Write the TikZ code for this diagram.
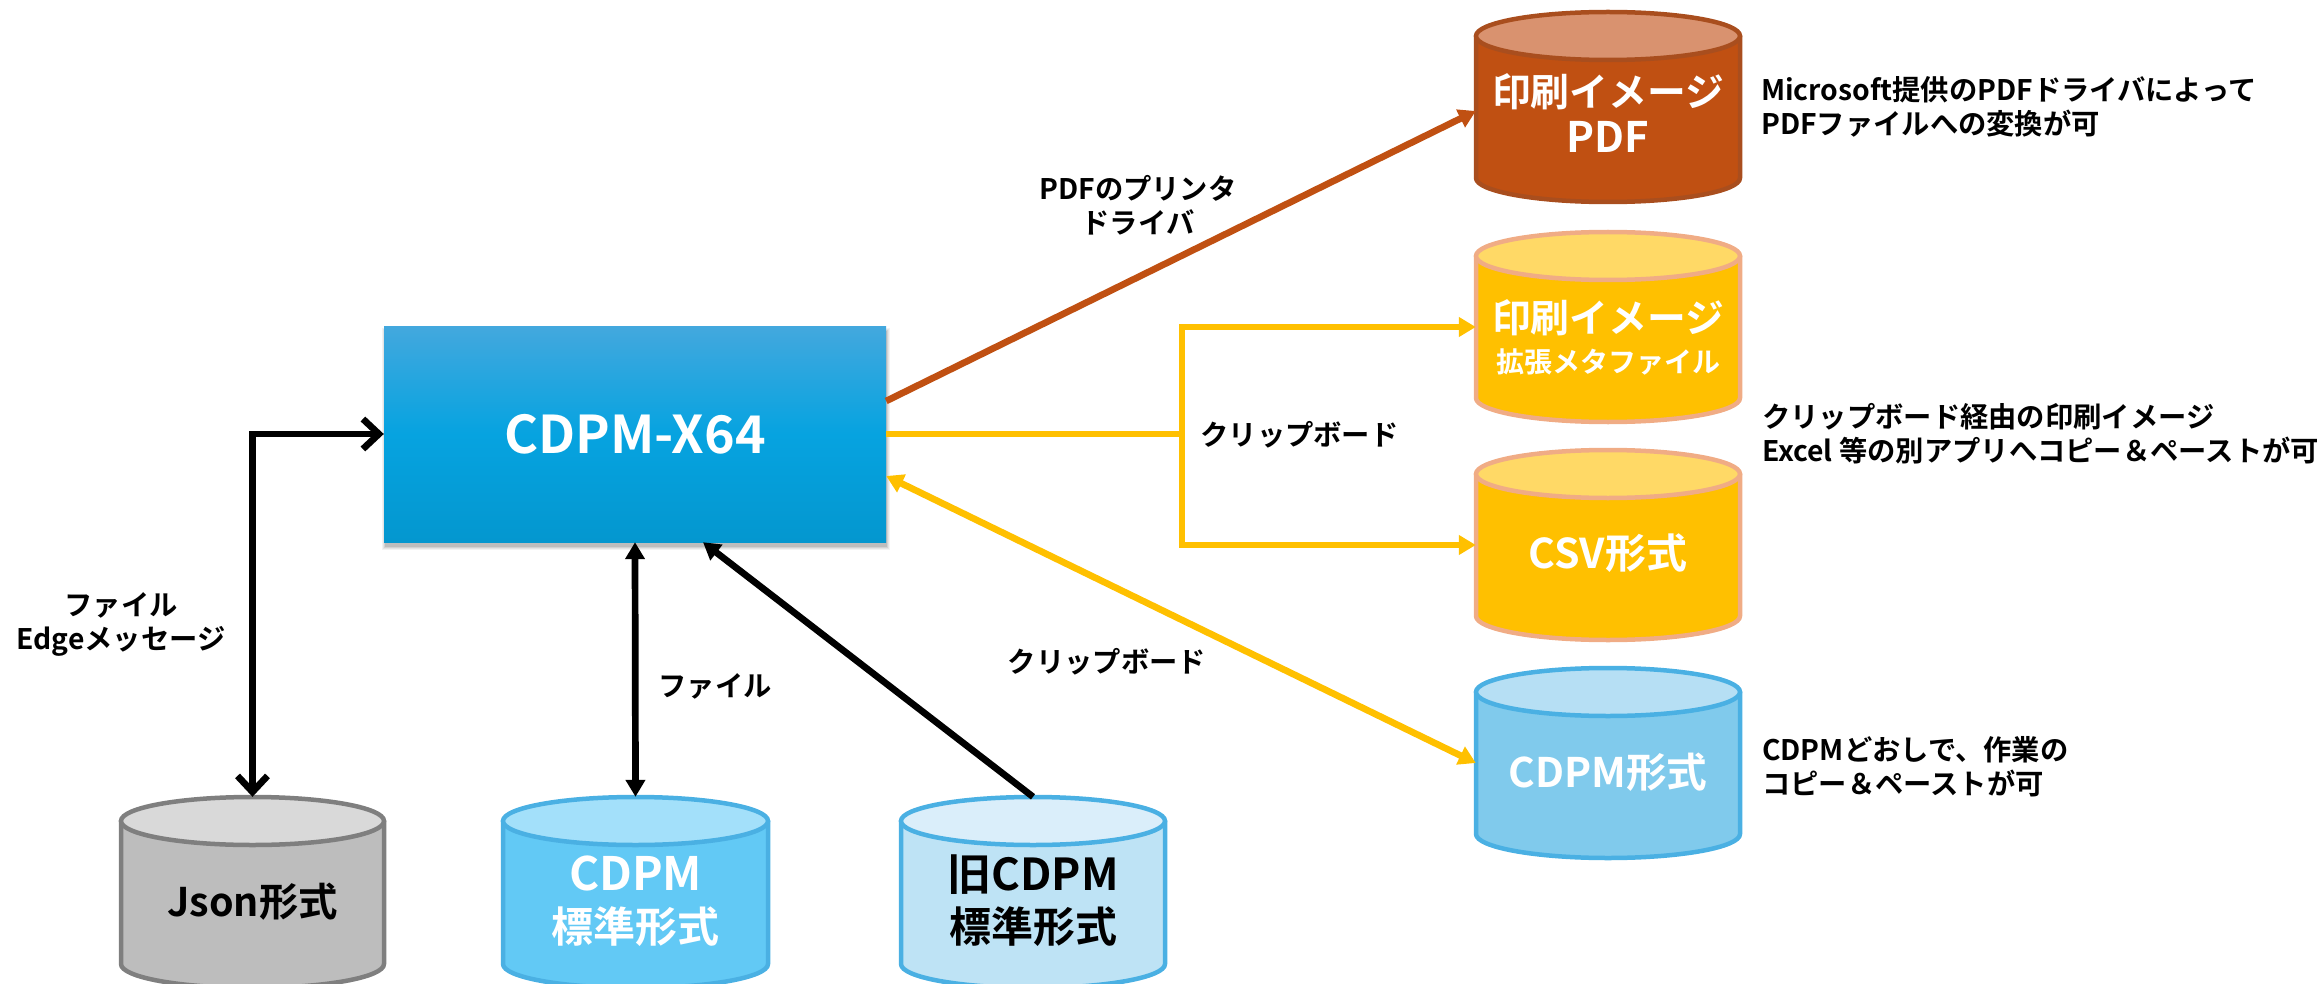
\documentclass[tikz,border=0pt]{standalone}
\usepackage{fontspec}
\setmainfont{Noto Sans CJK JP}[BoldFont={Noto Sans CJK JP Bold}]
\usetikzlibrary{arrows.meta,calc}
\definecolor{pdfF}{HTML}{C05012}\definecolor{pdfT}{HTML}{D9926F}\definecolor{pdfL}{HTML}{A94E1E}
\definecolor{yelF}{HTML}{FFC000}\definecolor{yelT}{HTML}{FFD966}\definecolor{yelL}{HTML}{F0AC85}
\definecolor{cfmF}{HTML}{80CAEC}\definecolor{cfmT}{HTML}{B6DFF4}\definecolor{bluL}{HTML}{4AB0E3}
\definecolor{stdF}{HTML}{62C9F5}\definecolor{stdT}{HTML}{A3E0FA}
\definecolor{oldF}{HTML}{BEE3F5}\definecolor{oldT}{HTML}{DAEEFA}
\definecolor{gryF}{HTML}{BDBDBD}\definecolor{gryT}{HTML}{D9D9D9}\definecolor{gryL}{HTML}{7F7F7F}
\definecolor{arrB}{HTML}{C05012}\definecolor{arrY}{HTML}{FFC000}
\definecolor{mainT}{HTML}{43A8DE}\definecolor{mainM}{HTML}{06A3E0}\definecolor{mainB}{HTML}{0497CF}
\tikzset{
  lbl/.style={font=\bfseries\fontsize{28.3}{34}\selectfont,align=center,inner sep=0pt,text=black},
  note/.style={lbl,align=left,anchor=west},
  conn/.style={line width=6.7pt},
  tri/.style={-{Triangle[length=17pt,width=19pt]}},
  tritwo/.style={{Triangle[length=17pt,width=19pt]}-{Triangle[length=17pt,width=19pt]}},
  barbs/.style={{Straight Barb[length=16pt,width=30pt,line width=6.7pt]}-{Straight Barb[length=16pt,width=30pt,line width=6.7pt]}},
}
% \cyl{name}{x1}{x2}{top}{ellipse bottom}{bottom}{fill}{top fill}{line}
\newcommand{\cyl}[9]{%
  \pgfmathsetmacro{\cxm}{(#2+#3)/2}\pgfmathsetmacro{\crx}{(#3-#2)/2}
  \pgfmathsetmacro{\cry}{(#5-#4)/2}\pgfmathsetmacro{\cym}{(#4+#5)/2}
  \pgfmathsetmacro{\ckx}{\crx*0.5523}\pgfmathsetmacro{\cky}{\cry*0.5523}
  \pgfmathsetmacro{\cyb}{#6-\cry}\pgfmathsetmacro{\ccy}{(#4+#6)/2}
  \pgfmathsetmacro{\cw}{#3-#2}\pgfmathsetmacro{\chh}{#6-#4}
  \filldraw[line width=4.5pt,draw=#9,fill=#7,line join=round] (#2,\cym) -- (#2,\cyb)
    .. controls (#2,\cyb+\cky) and (\cxm-\ckx,#6) .. (\cxm,#6)
    .. controls (\cxm+\ckx,#6) and (#3,\cyb+\cky) .. (#3,\cyb) -- (#3,\cym) -- cycle;
  \filldraw[line width=4.5pt,draw=#9,fill=#8] (#2,\cym)
    .. controls (#2,\cym-\cky) and (\cxm-\ckx,#4) .. (\cxm,#4)
    .. controls (\cxm+\ckx,#4) and (#3,\cym-\cky) .. (#3,\cym)
    .. controls (#3,\cym+\cky) and (\cxm+\ckx,#5) .. (\cxm,#5)
    .. controls (\cxm-\ckx,#5) and (#2,\cym+\cky) .. (#2,\cym) -- cycle;
  \node[inner sep=0pt,minimum width=\cw pt,minimum height=\chh pt] (#1) at (\cxm,\ccy) {\CylText};
}
\newcommand{\fs}[1]{\fontsize{#1}{10}\selectfont}
\newcommand{\ctext}[4]{\def\CylText{\raisebox{#1pt}[0pt][0pt]{\color{#2}\bfseries\fontsize{38}{#3}\selectfont\begin{tabular}{@{}c@{}}#4\end{tabular}}}}
\begin{document}
\begin{tikzpicture}[x=1pt,y=-1pt]
\useasboundingbox (0,0) rectangle (2323,984);
% main box with soft shadow
\foreach \e/\o in {4/.05,3/.06,2/.08,1/.10}
  \fill[black,opacity=\o] (386-\e,332-\e) rectangle (886+\e,546+\e);
\node[minimum width=502pt,minimum height=216pt,inner sep=0pt,
  top color=mainT,bottom color=mainB,middle color=mainM,
  text=white,font=\bfseries\fontsize{52}{58}\selectfont] (main) at (635,434) {CDPM-X64};
% cylinders
\ctext{-19}{white}{46}{{\fs{38.8}印刷イメージ}\\{\fs{42}PDF}}
\cyl{pdf}{1476}{1740}{12}{60}{202}{pdfF}{pdfT}{pdfL}
\ctext{-21}{white}{40}{{\fs{38.8}印刷イメージ}\\{\fs{28}拡張メタファイル}}
\cyl{emf}{1476}{1740}{232}{280}{422}{yelF}{yelT}{yelL}
\ctext{-19}{white}{47}{{\fs{41}CSV形式}}
\cyl{csv}{1476}{1740}{450}{498}{640}{yelF}{yelT}{yelL}
\ctext{-20}{white}{47}{{\fs{40.7}CDPM形式}}
\cyl{cfm}{1476}{1740}{668}{716}{858}{cfmF}{cfmT}{bluL}
\ctext{-21}{black}{47}{{\fs{39.4}Json形式}}
\cyl{jsn}{121}{384}{797}{845}{988}{gryF}{gryT}{gryL}
\ctext{-20}{white}{51}{{\fs{46}CDPM}\\{\fs{42}標準形式}}
\cyl{std}{503}{768}{797}{845}{988}{stdF}{stdT}{bluL}
\ctext{-20}{black}{51}{{\fs{44}旧CDPM}\\{\fs{42}標準形式}}
\cyl{old}{901}{1165}{797}{845}{988}{oldF}{oldT}{bluL}
% connectors
\draw[conn,draw=arrB,tri] ([yshift=33pt]main.east) -- ([yshift=-4pt]pdf.west);
\coordinate (ysplit) at (1182,434);
\draw[conn,draw=arrY] (main.east) -- (ysplit);
\draw[conn,draw=arrY,tri,line join=miter] (ysplit) |- (emf.west);
\draw[conn,draw=arrY,tri,line join=miter] (ysplit) |- (csv.west);
\draw[conn,draw=arrY,tritwo] ([yshift=-42pt]main.east) -- (cfm.west);
\draw[conn,draw=black,barbs,line join=miter] (jsn.north) |- (main.west);
\draw[conn,draw=black,tritwo] (main.south) -- (std.north);
\draw[conn,draw=black,tri] (old.north) -- ([xshift=68pt]main.south);
% labels
\node[lbl] (l1) at (1138,205) {PDFのプリンタ\\ドライバ};
\node[lbl] (l2) at (1299.5,435) {クリップボード};
\node[lbl] (l3) at (1107,662) {クリップボード};
\node[lbl] (l4) at (715,686) {ファイル};
\node[lbl] (l5) at (121,624) {ファイル\\Edgeメッセージ};
\node[note] (n1) at (1761,107) {Microsoft提供のPDFドライバによって\\PDFファイルへの変換が可};
\node[note] (n2) at (1762,434) {クリップボード経由の印刷イメージ\\Excel 等の別アプリへコピー＆ペーストが可};
\node[note] (n3) at (1762,767) {CDPMどおしで、作業の\\コピー＆ペーストが可};
\end{tikzpicture}
\end{document}
